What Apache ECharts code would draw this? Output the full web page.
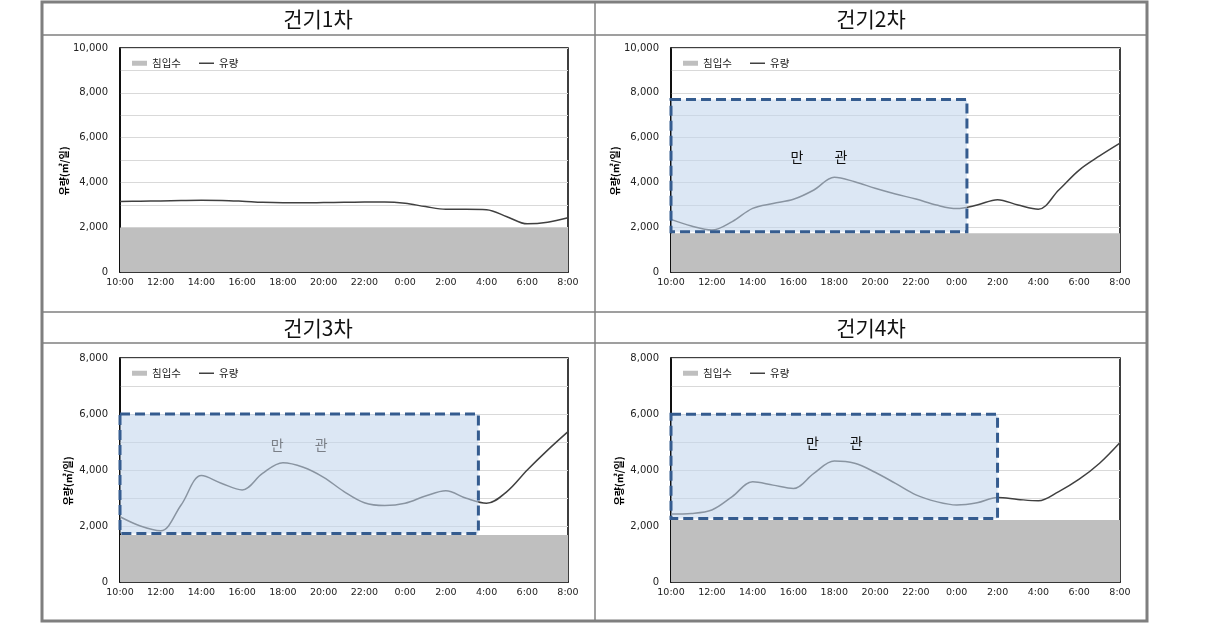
<!DOCTYPE html>
<html><head><meta charset="utf-8">
<script src="https://cdn.jsdelivr.net/npm/echarts@6/dist/echarts.min.js"></script>
<style>html,body{margin:0;padding:0;background:#fff}#c{width:1215px;height:624px}</style>
</head><body><div id="c"></div>
<script>
// ---- data ----
const panelTitles = ['건기1차', '건기2차', '건기3차', '건기4차'];
const hours = [0,1,2,3,4,5,6,7,8,9,10,11,12,13,14,15,16,17,18,19,20,21,22];
const tickLabels = ['10:00','12:00','14:00','16:00','18:00','20:00','22:00','0:00','2:00','4:00','6:00','8:00'];
const flow1 = [3150,3160,3175,3190,3200,3195,3160,3110,3090,3090,3100,3110,3120,3130,3070,2920,2800,2800,2780,2470,2150,2220,2420];
const flow2 = [2350,2050,1870,2250,2840,3060,3245,3660,4230,4030,3735,3480,3260,2990,2830,2990,3230,2990,2800,3660,4550,5180,5750];
const flow3 = [2330,2000,1830,2750,3800,3520,3290,3880,4260,4100,3740,3230,2830,2730,2810,3070,3260,2990,2810,3230,4000,4710,5370];
const flow4 = [2430,2450,2570,3050,3580,3460,3340,3880,4320,4240,3920,3520,3110,2870,2750,2830,3020,2950,2900,3230,3670,4240,4980];
const intrusion = [1980, 1730, 1680, 2210];
const yMax = [10000, 10000, 8000, 8000];
// full-pipe (만관) boxes: [xStartHour, xEndHour, yBottom, yTop]; null = none
const fullBox1 = null;
const fullBox2 = [0, 14.5, 1800, 7700];
const fullBox3 = [0, 17.6, 1730, 6000];
const fullBox4 = [0, 16.0, 2270, 5990];
const fullLabel = ['만', '관'];

// ---- layout / style ----
const flows = [flow1, flow2, flow3, flow4];
const boxes = [fullBox1, fullBox2, fullBox3, fullBox4];
const grids = [
  {left:120, top:48, width:448, height:224},
  {left:671, top:48, width:449, height:224},
  {left:120, top:358, width:448, height:224},
  {left:671, top:358, width:449, height:224}
];
const labelDist = [0, 52, 25, 23];
const labelColor = ['#000', '#111', '#7a7f87', '#111'];
const FONT = '"DejaVu Sans", sans-serif';
const KFONT = '"Noto Sans CJK KR", sans-serif';

const chart = echarts.init(document.getElementById('c'), null, {renderer:'canvas'});
const xAxes = [], yAxes = [], series = [], legends = [];
grids.forEach((g, i) => {
  xAxes.push({
    type:'value', gridIndex:i, min:0, max:22, interval:2,
    axisLine:{show:true, lineStyle:{color:'#000', width:1.5}},
    axisTick:{show:false}, splitLine:{show:false},
    axisLabel:{color:'#222', fontSize:9.5, fontFamily:FONT, margin:6,
      formatter: v => tickLabels[Math.round(v/2)]}
  });
  yAxes.push({
    type:'value', gridIndex:i, min:0, max:yMax[i], interval:1000,
    name:'유량(㎥/일)', nameLocation:'middle', nameGap:47, nameRotate:90,
    nameTextStyle:{fontSize:10, color:'#000', fontFamily:KFONT, fontWeight:'bold', padding:[0,22,0,0]},
    axisLine:{show:true, lineStyle:{color:'#000', width:1.5}},
    axisTick:{show:false},
    splitLine:{show:true, lineStyle:{color:'#d9d9d9', width:1}},
    axisLabel:{color:'#222', fontSize:10, fontFamily:FONT, margin:12,
      formatter: v => (v % 2000 === 0 ? v.toLocaleString('en-US') : '')}
  });
  series.push({
    name:'침입수', type:'line', xAxisIndex:i, yAxisIndex:i, symbol:'none',
    data:[[hours[0], intrusion[i]], [hours[hours.length-1], intrusion[i]]],
    lineStyle:{width:0}, itemStyle:{color:'#bfbfbf'},
    areaStyle:{color:'#bfbfbf', opacity:1}, z:2, silent:true
  });
  const s = {
    name:'유량', type:'line', xAxisIndex:i, yAxisIndex:i, symbol:'none', smooth:0.35,
    data: hours.map((h, k) => [h, flows[i][k]]),
    lineStyle:{color:'#404040', width:1.5}, itemStyle:{color:'#404040'}, z:3
  };
  const b = boxes[i];
  if (b) {
    s.markArea = {
      z:5, silent:true,
      itemStyle:{color:'rgba(194,213,236,0.57)', borderColor:'#355c8f', borderWidth:3, borderType:[10,5]},
      label:{show:true, position:'insideTop', distance:labelDist[i],
        formatter: fullLabel[0] + '{g| }' + fullLabel[1],
        color:labelColor[i], fontSize:14, fontFamily:KFONT,
        rich:{g:{width:31}}},
      data:[[{xAxis:b[0], yAxis:b[3]}, {xAxis:b[1], yAxis:b[2]}]]
    };
  }
  series.push(s);
  legends.push({
    left: g.left + 7, top: g.top + 5, itemWidth:15, itemHeight:5,
    textStyle:{fontSize:10.5, color:'#222', fontFamily:KFONT},
    data:[{name:'침입수', icon:'rect'}], selectedMode:false
  });
  legends.push({
    left: g.left + 74, top: g.top + 5, itemWidth:15, itemHeight:1.5,
    textStyle:{fontSize:10.5, color:'#222', fontFamily:KFONT},
    data:[{name:'유량', icon:'rect'}], selectedMode:false
  });
});

const frameColor = '#7f7f7f';
const graphic = [
  {type:'rect', shape:{x:42, y:2, width:1105, height:619}, style:{fill:null, stroke:frameColor, lineWidth:3}, z:100},
  {type:'line', shape:{x1:42, y1:35, x2:1147, y2:35}, style:{stroke:frameColor, lineWidth:1.5}, z:100},
  {type:'line', shape:{x1:42, y1:312, x2:1147, y2:312}, style:{stroke:frameColor, lineWidth:1.5}, z:100},
  {type:'line', shape:{x1:42, y1:343, x2:1147, y2:343}, style:{stroke:frameColor, lineWidth:1.5}, z:100},
  {type:'line', shape:{x1:595, y1:2, x2:595, y2:621}, style:{stroke:frameColor, lineWidth:1.5}, z:100}
];
const titlePos = [[318,19],[871,19],[318,328],[871,328]];
panelTitles.forEach((t, i) => {
  graphic.push({type:'text', x:titlePos[i][0], y:titlePos[i][1], z:100,
    style:{text:t, fill:'#111', font:'21px ' + KFONT, textAlign:'center', textVerticalAlign:'middle'}});
});

chart.setOption({
  animation:false,
  grid: grids.map(g => Object.assign({show:true, borderColor:'#000', borderWidth:1.5, backgroundColor:'#fff'}, g)),
  xAxis:xAxes, yAxis:yAxes, series:series, legend:legends, graphic:graphic
});
</script></body></html>
